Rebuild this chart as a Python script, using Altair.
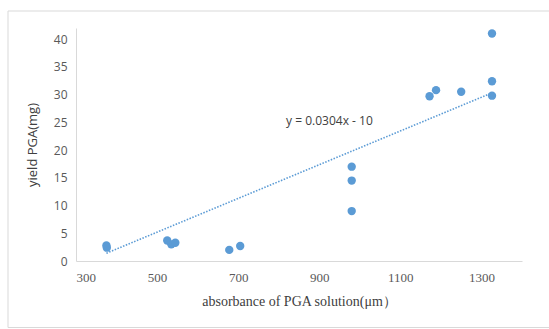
import altair as alt
import pandas as pd

absorbance = [375, 376, 525, 535, 545, 678, 705, 980, 980, 980, 1172, 1188, 1250, 1326, 1326, 1326]
yield_mg = [2.8, 2.4, 3.7, 3.0, 3.3, 2.0, 2.7, 17.0, 14.5, 9.0, 29.7, 30.8, 30.5, 41.0, 32.4, 29.8]
slope = 0.0304
intercept = -10
eq_label = ["y = 0.0304x - 10"]
eq_pos_x = [925]
eq_pos_y = [25.2]
x_ticks = [300, 500, 700, 900, 1100, 1300]
y_ticks = [0, 5, 10, 15, 20, 25, 30, 35, 40]

df = pd.DataFrame({"x": absorbance, "y": yield_mg})
xmin, xmax = min(absorbance), max(absorbance)
trend = pd.DataFrame({"x": [xmin, xmax], "y": [slope * xmin + intercept, slope * xmax + intercept]})
lab = pd.DataFrame({"x": eq_pos_x, "y": eq_pos_y, "t": eq_label})

blue = "#5b9bd5"

xs = alt.Scale(domain=[300, 1400], nice=False, zero=False)
ys = alt.Scale(domain=[0, 42], nice=False)

xax = alt.Axis(values=x_ticks, format="d", title="absorbance of  PGA solution(\u03bcm\uff09", grid=False, ticks=False,
               domainColor="#d9d9d9", labelFont="Liberation Serif", labelFontSize=13, labelColor="#595959",
               labelPadding=10, labelOverlap=False, titleFont="Liberation Serif", titleFontSize=14,
               titleFontWeight="normal", titleColor="#404040", titlePadding=10)
yax = alt.Axis(values=y_ticks, format="d", title="yield PGA(mg)", grid=False, ticks=False,
               domainColor="#d9d9d9", labelFont="Open Sans", labelFontSize=12, labelColor="#595959",
               labelPadding=9, labelOverlap=False, labelBound=False, titleFont="Open Sans", titleFontSize=13,
               titleFontWeight="normal", titleColor="#404040", titlePadding=14)

border = alt.Chart(pd.DataFrame({"a": [0]})).mark_rect(fill=None, stroke="#d9d9d9", strokeWidth=1).encode(
    x=alt.value(-68), x2=alt.value(490), y=alt.value(-17), y2=alt.value(299.5)
)

pts = alt.Chart(df).mark_point(filled=True, size=70, color=blue, opacity=1).encode(
    x=alt.X("x:Q", scale=xs, axis=xax),
    y=alt.Y("y:Q", scale=ys, axis=yax),
)

line = alt.Chart(trend).mark_line(color=blue, strokeWidth=1.6, strokeDash=[1.5, 1.5]).encode(
    x=alt.X("x:Q", scale=xs, axis=xax),
    y=alt.Y("y:Q", scale=ys, axis=yax),
)

txt = alt.Chart(lab).mark_text(font="Open Sans", fontSize=12, color="#404040").encode(
    x=alt.X("x:Q", scale=xs, axis=xax),
    y=alt.Y("y:Q", scale=ys, axis=yax),
    text="t:N",
)

chart = alt.layer(border, line, pts, txt).properties(
    width=446, height=233,
    autosize=alt.AutoSizeParams(type="none"),
    padding={"left": 76, "top": 28, "right": 27, "bottom": 68},
    background="white",
).configure_view(stroke=None)

chart.save("out.html", embed_options={"renderer": "svg", "actions": False})
